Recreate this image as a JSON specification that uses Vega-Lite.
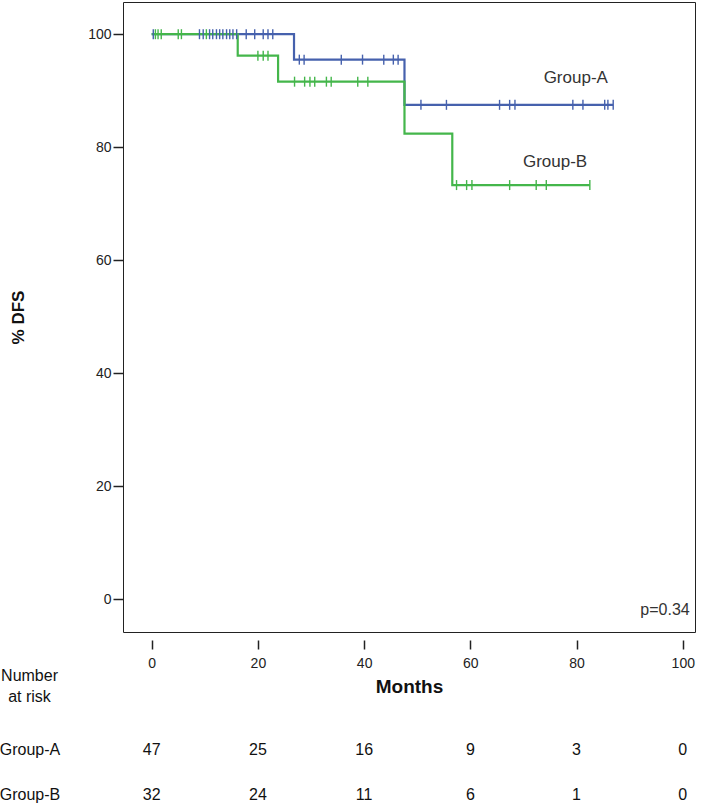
{
  "$schema": "https://vega.github.io/schema/vega-lite/v6.json",
  "autosize": {"type": "none"},
  "padding": {"left": 123, "top": 2, "right": 14, "bottom": 173},
  "width": 572,
  "height": 630,
  "background": "white",
  "config": {
    "font": "Liberation Sans",
    "view": {"stroke": "#222222", "strokeWidth": 1},
    "axis": {"grid": false, "labelColor": "#222222", "titleColor": "#111111", "tickColor": "#222222", "labelFont": "Liberation Sans", "titleFont": "Liberation Sans"}
  },
  "datasets": {
    "curves": [
      {"group": "Group-A", "month": 0, "surv": 100},
      {"group": "Group-A", "month": 26.8, "surv": 95.5},
      {"group": "Group-A", "month": 47.6, "surv": 87.5},
      {"group": "Group-A", "month": 86.9, "surv": 87.5},
      {"group": "Group-B", "month": 0, "surv": 100},
      {"group": "Group-B", "month": 16.2, "surv": 96.2},
      {"group": "Group-B", "month": 23.8, "surv": 91.6},
      {"group": "Group-B", "month": 47.6, "surv": 82.4},
      {"group": "Group-B", "month": 56.6, "surv": 73.3},
      {"group": "Group-B", "month": 82.5, "surv": 73.3}
    ],
    "censored": [
      {"group": "Group-A", "month": 0.3, "surv": 100},
      {"group": "Group-A", "month": 9.0, "surv": 100},
      {"group": "Group-A", "month": 9.7, "surv": 100},
      {"group": "Group-A", "month": 10.9, "surv": 100},
      {"group": "Group-A", "month": 11.5, "surv": 100},
      {"group": "Group-A", "month": 12.2, "surv": 100},
      {"group": "Group-A", "month": 12.8, "surv": 100},
      {"group": "Group-A", "month": 13.4, "surv": 100},
      {"group": "Group-A", "month": 14.1, "surv": 100},
      {"group": "Group-A", "month": 14.7, "surv": 100},
      {"group": "Group-A", "month": 15.3, "surv": 100},
      {"group": "Group-A", "month": 16.0, "surv": 100},
      {"group": "Group-A", "month": 17.8, "surv": 100},
      {"group": "Group-A", "month": 19.4, "surv": 100},
      {"group": "Group-A", "month": 21.0, "surv": 100},
      {"group": "Group-A", "month": 21.9, "surv": 100},
      {"group": "Group-A", "month": 22.8, "surv": 100},
      {"group": "Group-A", "month": 27.8, "surv": 95.5},
      {"group": "Group-A", "month": 28.7, "surv": 95.5},
      {"group": "Group-A", "month": 35.7, "surv": 95.5},
      {"group": "Group-A", "month": 39.7, "surv": 95.5},
      {"group": "Group-A", "month": 43.7, "surv": 95.5},
      {"group": "Group-A", "month": 45.5, "surv": 95.5},
      {"group": "Group-A", "month": 46.4, "surv": 95.5},
      {"group": "Group-A", "month": 50.7, "surv": 87.5},
      {"group": "Group-A", "month": 55.5, "surv": 87.5},
      {"group": "Group-A", "month": 65.5, "surv": 87.5},
      {"group": "Group-A", "month": 67.4, "surv": 87.5},
      {"group": "Group-A", "month": 68.4, "surv": 87.5},
      {"group": "Group-A", "month": 79.3, "surv": 87.5},
      {"group": "Group-A", "month": 81.2, "surv": 87.5},
      {"group": "Group-A", "month": 85.3, "surv": 87.5},
      {"group": "Group-A", "month": 85.9, "surv": 87.5},
      {"group": "Group-A", "month": 86.9, "surv": 87.5},
      {"group": "Group-B", "month": 0.7, "surv": 100},
      {"group": "Group-B", "month": 1.2, "surv": 100},
      {"group": "Group-B", "month": 1.8, "surv": 100},
      {"group": "Group-B", "month": 5.0, "surv": 100},
      {"group": "Group-B", "month": 5.6, "surv": 100},
      {"group": "Group-B", "month": 10.3, "surv": 100},
      {"group": "Group-B", "month": 20.0, "surv": 96.2},
      {"group": "Group-B", "month": 21.0, "surv": 96.2},
      {"group": "Group-B", "month": 21.9, "surv": 96.2},
      {"group": "Group-B", "month": 26.9, "surv": 91.6},
      {"group": "Group-B", "month": 28.8, "surv": 91.6},
      {"group": "Group-B", "month": 29.8, "surv": 91.6},
      {"group": "Group-B", "month": 30.7, "surv": 91.6},
      {"group": "Group-B", "month": 32.9, "surv": 91.6},
      {"group": "Group-B", "month": 33.8, "surv": 91.6},
      {"group": "Group-B", "month": 38.8, "surv": 91.6},
      {"group": "Group-B", "month": 40.7, "surv": 91.6},
      {"group": "Group-B", "month": 57.4, "surv": 73.3},
      {"group": "Group-B", "month": 59.3, "surv": 73.3},
      {"group": "Group-B", "month": 60.3, "surv": 73.3},
      {"group": "Group-B", "month": 67.4, "surv": 73.3},
      {"group": "Group-B", "month": 72.4, "surv": 73.3},
      {"group": "Group-B", "month": 74.3, "surv": 73.3},
      {"group": "Group-B", "month": 82.5, "surv": 73.3}
    ],
    "risk": [
      {"group": "Group-A", "month": 0, "n": 47},
      {"group": "Group-A", "month": 20, "n": 25},
      {"group": "Group-A", "month": 40, "n": 16},
      {"group": "Group-A", "month": 60, "n": 9},
      {"group": "Group-A", "month": 80, "n": 3},
      {"group": "Group-A", "month": 100, "n": 0},
      {"group": "Group-B", "month": 0, "n": 32},
      {"group": "Group-B", "month": 20, "n": 24},
      {"group": "Group-B", "month": 40, "n": 11},
      {"group": "Group-B", "month": 60, "n": 6},
      {"group": "Group-B", "month": 80, "n": 1},
      {"group": "Group-B", "month": 100, "n": 0}
    ],
    "one": [{}]
  },
  "layer": [
    {
      "data": {"name": "curves"},
      "mark": {"type": "line", "interpolate": "step-after", "strokeWidth": 2.2},
      "encoding": {
        "x": {"field": "month", "type": "quantitative",
          "scale": {"domain": [-5.4, 102.3], "nice": false, "zero": false},
          "axis": {"values": [0, 20, 40, 60, 80, 100], "title": "Months", "offset": 8, "domain": false,
            "tickSize": 9, "tickWidth": 1.5, "labelFontSize": 14, "labelPadding": 7,
            "titleFontSize": 19, "titleFontWeight": "bold", "titlePadding": 7}},
        "y": {"field": "surv", "type": "quantitative",
          "scale": {"domain": [-5.8, 105.7], "nice": false, "zero": false},
          "axis": {"values": [0, 20, 40, 60, 80, 100], "title": "% DFS", "domain": false,
            "tickSize": 10, "tickWidth": 1.5, "labelFontSize": 14, "labelPadding": 2,
            "titleFontSize": 17, "titleFontWeight": "bold", "titlePadding": 60}},
        "color": {"field": "group", "type": "nominal",
          "scale": {"domain": ["Group-A", "Group-B"], "range": ["#4661ad", "#44b64b"]}, "legend": null}
      }
    },
    {
      "data": {"name": "censored"},
      "mark": {"type": "point", "shape": "M0,-1L0,1", "filled": false, "size": 100, "strokeWidth": 1.4, "opacity": 1},
      "encoding": {
        "x": {"field": "month", "type": "quantitative"},
        "y": {"field": "surv", "type": "quantitative"},
        "color": {"field": "group", "type": "nominal", "legend": null}
      }
    },
    {
      "data": {"name": "one"},
      "mark": {"type": "text", "align": "left", "baseline": "middle", "fontSize": 17, "color": "#333333"},
      "encoding": {"x": {"datum": 73.8}, "y": {"datum": 92.2}, "text": {"value": "Group-A"}}
    },
    {
      "data": {"name": "one"},
      "mark": {"type": "text", "align": "left", "baseline": "middle", "fontSize": 17, "color": "#333333"},
      "encoding": {"x": {"datum": 69.9}, "y": {"datum": 77.3}, "text": {"value": "Group-B"}}
    },
    {
      "data": {"name": "one"},
      "mark": {"type": "text", "align": "right", "baseline": "middle", "fontSize": 16, "color": "#333333"},
      "encoding": {"x": {"datum": 101.3}, "y": {"datum": -1.9}, "text": {"value": "p=0.34"}}
    },
    {
      "data": {"name": "one"},
      "mark": {"type": "text", "align": "center", "baseline": "middle", "fontSize": 16, "color": "#111111", "lineHeight": 21},
      "encoding": {"x": {"datum": -23}, "y": {"datum": -13.6}, "text": {"value": ["Number", "at risk"]}}
    },
    {
      "data": {"name": "one"},
      "mark": {"type": "text", "align": "left", "baseline": "middle", "fontSize": 16, "color": "#111111"},
      "encoding": {"x": {"datum": -28.6}, "y": {"datum": -26.6}, "text": {"value": "Group-A"}}
    },
    {
      "data": {"name": "one"},
      "mark": {"type": "text", "align": "left", "baseline": "middle", "fontSize": 16, "color": "#111111"},
      "encoding": {"x": {"datum": -28.6}, "y": {"datum": -34.6}, "text": {"value": "Group-B"}}
    },
    {
      "data": {"name": "risk"},
      "transform": [{"filter": "datum.group === 'Group-A'"}],
      "mark": {"type": "text", "align": "center", "baseline": "middle", "fontSize": 16, "color": "#111111"},
      "encoding": {"x": {"field": "month", "type": "quantitative"}, "y": {"datum": -26.6}, "text": {"field": "n", "type": "quantitative"}}
    },
    {
      "data": {"name": "risk"},
      "transform": [{"filter": "datum.group === 'Group-B'"}],
      "mark": {"type": "text", "align": "center", "baseline": "middle", "fontSize": 16, "color": "#111111"},
      "encoding": {"x": {"field": "month", "type": "quantitative"}, "y": {"datum": -34.6}, "text": {"field": "n", "type": "quantitative"}}
    }
  ]
}
